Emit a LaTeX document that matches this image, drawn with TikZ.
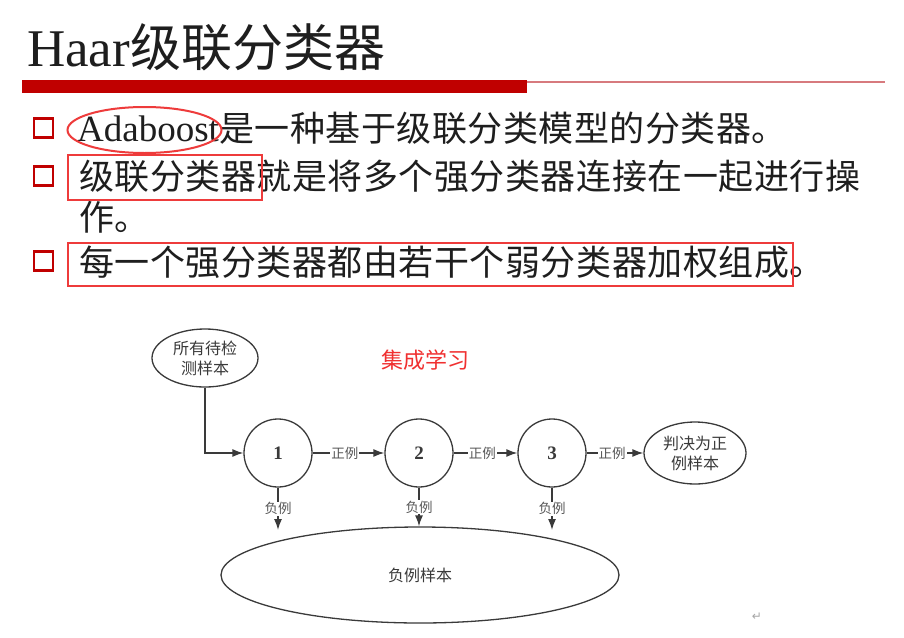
\documentclass[tikz,border=0pt]{standalone}
\usepackage{fontspec}
\setmainfont{Liberation Serif}
\newfontfamily\cjk{Noto Sans CJK SC}
\newfontfamily\cjkbody[LetterSpace=1.5]{Noto Sans CJK SC}
\newfontfamily\symfont{DejaVu Sans}
\usetikzlibrary{arrows.meta,shapes.geometric}

\definecolor{barred}{HTML}{C00000}
\definecolor{thinred}{HTML}{D77A7E}
\definecolor{markred}{HTML}{EE3B3B}
\definecolor{ink}{HTML}{1E1E1E}
\definecolor{diag}{HTML}{3A3A3A}
\definecolor{learnred}{HTML}{F03030}

\tikzset{
  bodytext/.style={anchor=base west, inner sep=0pt, text=ink},
  bulletbox/.style={draw=barred, line width=2.8pt, fill=white, minimum size=19pt, inner sep=0pt},
  markbox/.style={draw=markred, line width=2.2pt, anchor=north west, inner sep=0pt},
  stage/.style={circle, draw=diag, line width=1.3pt, minimum size=68pt, inner sep=0pt,
    font=\fontsize{19}{19}\selectfont\bfseries, text=diag},
  pool/.style={ellipse, draw=diag, line width=1.3pt, inner sep=0pt, align=center,
    text=diag, font=\cjk\fontsize{16}{20}\selectfont},
  flow/.style={draw=diag, line width=1.4pt, -{Latex[length=11pt,width=8pt]}},
  flowlabel/.style={fill=white, inner sep=1pt, text=diag!85, font=\cjk\fontsize{13.5}{13.5}\selectfont},
}

\newcommand{\bodysize}{\cjkbody\fontsize{35}{35}\selectfont}

\begin{document}
\begin{tikzpicture}[x=1pt,y=-1pt]
  \fill[white] (0,0) rectangle (904,637);
  \useasboundingbox (0,0) rectangle (904,637);

  % title and rule
  \node[anchor=base west, inner sep=0pt, text=ink] (title) at (27,66)
    {\fontsize{53}{53}\selectfont Haar{\cjk\fontsize{51}{51}\selectfont 级联分类器}};
  \fill[barred] (22,80) rectangle (527,93);
  \draw[thinred, line width=2pt] (527,81.5) -- (885,81.5);

  % bullets
  \node[bulletbox] (b1) at (43.5,128) {};
  \node[bulletbox] (b2) at (43.5,176) {};
  \node[bulletbox] (b3) at (43.5,261) {};

  % body text
  \node[bodytext] (l1) at (77,141)
    {\fontsize{37}{37}\selectfont Adaboost{\bodysize 是一种基于级联分类模型的分类器。}};
  \node[bodytext] (l2) at (79,189)
    {\bodysize 级联分类器就是将多个强分类器连接在一起进行操};
  \node[bodytext] (l2b) at (79,230)
    {\bodysize 作。};
  \node[bodytext] (l3) at (79,275)
    {\bodysize 每一个强分类器都由若干个弱分类器加权组成。};

  % highlight marks
  \node[ellipse, draw=markred, line width=2pt, minimum width=154pt, minimum height=46pt,
    inner sep=0pt] (m1) at (144.5,130) {};
  \node[markbox, minimum width=194pt, minimum height=45pt] (m2) at (67,154) {};
  \node[markbox, minimum width=725pt, minimum height=43pt] (m3) at (67,242) {};

  % cascade diagram
  \node[pool, minimum width=106pt, minimum height=58pt] (all) at (205,358) {所有待检\\测样本};
  \node[stage] (s1) at (278,453) {1};
  \node[stage] (s2) at (419,453) {2};
  \node[stage] (s3) at (552,453) {3};
  \node[pool, minimum width=102pt, minimum height=62pt] (pos) at (695,453) {判决为正\\例样本};
  \node[pool, minimum width=398pt, minimum height=96pt] (neg) at (420,575) {负例样本};
  \coordinate (d1) at (278,530);
  \coordinate (d3) at (552,530);

  \draw[flow] (all.south) |- (s1.west);
  \draw[flow] (s1) -- node[flowlabel, pos=0.45] {正例} (s2);
  \draw[flow] (s2) -- node[flowlabel, pos=0.45] {正例} (s3);
  \draw[flow] (s3) -- node[flowlabel, pos=0.45] {正例} (pos);
  \draw[flow] (s1.south) -- node[flowlabel] {负例} (d1);
  \draw[flow] (s2.south) -- node[flowlabel] {负例} (s2.south |- neg.north);
  \draw[flow] (s3.south) -- node[flowlabel] {负例} (d3);

  \node[text=learnred, font=\cjk\fontsize{22}{22}\selectfont] (learn) at (425,360) {集成学习};
  \node[text=gray!70, font=\symfont\fontsize{12}{12}\selectfont] (ret) at (757,617) {↵};
\end{tikzpicture}
\end{document}
